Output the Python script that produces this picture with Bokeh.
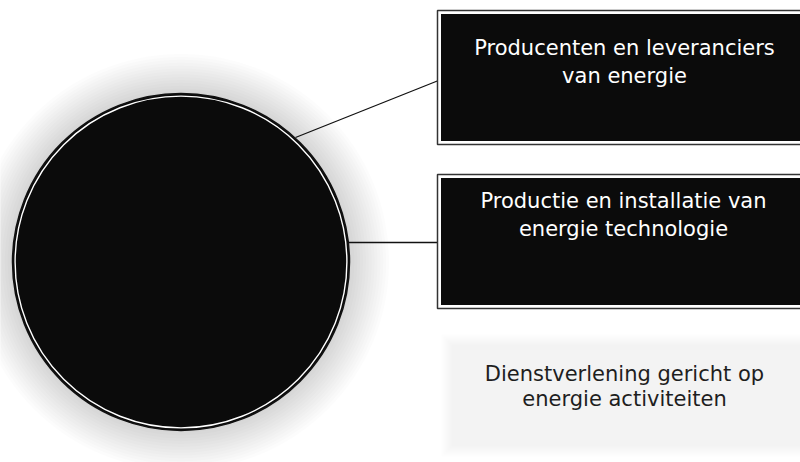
import numpy as np
from bokeh.plotting import figure
from bokeh.models import Range1d
from bokeh.core.properties import value
from bokeh.embed import file_html
from bokeh.resources import INLINE

# ---- content ----
box_labels = [
    "Producenten en leveranciers\nvan energie",
    "Productie en installatie van\nenergie technologie",
    "Dienstverlening gericht op\nenergie activiteiten",
]

# ---- layout (image pixel coordinates) ----
W, H = 800, 462
p = figure(width=W, height=H, output_backend="svg", toolbar_location=None,
           x_range=Range1d(0, W), y_range=Range1d(H, 0),
           min_border=0, outline_line_color=None, background_fill_color="white")
p.axis.visible = False
p.grid.visible = False

cx, cy, R = 180.5, 261.5, 168.5

# halo around circle
for r in np.linspace(208, R + 2, 14):
    p.circle(x=[cx], y=[cy], radius=r, fill_color="#7a7a7a", fill_alpha=0.024, line_color=None)

# third (light gray) area with soft edges
for k in range(6):
    p.quad(left=[441 + 2 * k], right=[800], top=[334 + 2 * k], bottom=[456 - 2 * k],
           fill_color="#9a9a9a", fill_alpha=0.025, line_color=None)

# connectors
p.line(x=[295, 438], y=[137, 80], line_color="#111111", line_width=1.3)
p.line(x=[347, 438], y=[242, 242], line_color="#111111", line_width=1.3)

# main circle with double edge
p.circle(x=[cx], y=[cy], radius=R, fill_color="#0b0b0b", line_color="#111111", line_width=1.5)
p.circle(x=[cx], y=[cy], radius=R - 2.6, fill_color="#0b0b0b", line_color="white", line_width=1.4)

# black boxes with double border
box_tops = [10, 174]
box_bottoms = [144, 308]
for t, b in zip(box_tops, box_bottoms):
    p.quad(left=[437], right=[801], top=[t], bottom=[b], fill_color="white",
           line_color="#333333", line_width=1.5)
    p.quad(left=[440.5], right=[801], top=[t + 3.5], bottom=[b - 3.5], fill_color="#0b0b0b",
           line_color=None)

# labels
label_x = [624, 623, 624]
label_y = [[47, 75], [200, 228], [373, 398]]
label_colors = ["white", "white", "#1e1e1e"]
for lbl, x, ys, c in zip(box_labels, label_x, label_y, label_colors):
    for line, y in zip(lbl.split("\n"), ys):
        p.text(x=[x], y=[y], text=[line], text_align="center", text_baseline="middle",
               text_font=value("DejaVu Sans"), text_font_size="21px", text_color=c)

open("out.html", "w").write(file_html(p, INLINE))
